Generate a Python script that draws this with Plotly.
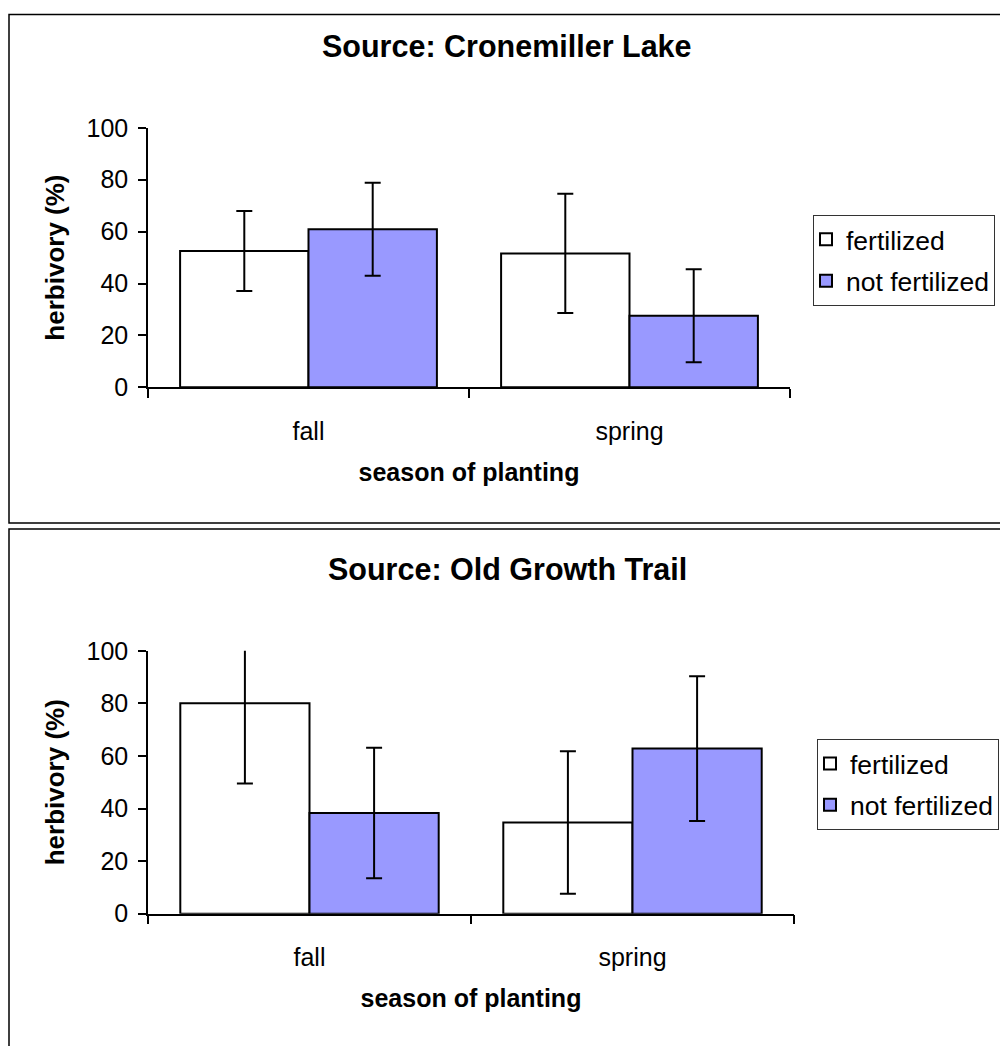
import plotly.graph_objects as go

# ---- data ----
seasons = ["fall", "spring"]
series_names = ["fertilized", "not fertilized"]

lake_fert = [52.5, 51.6]
lake_fert_err = [15.4, 23.0]
lake_notfert = [60.9, 27.6]
lake_notfert_err = [17.9, 17.9]

trail_fert = [80.1, 34.7]
trail_fert_err = [30.6, 27.1]
trail_notfert = [38.3, 62.8]
trail_notfert_err = [24.8, 27.5]

titles = ["Source: Cronemiller Lake", "Source: Old Growth Trail"]
y_ticks = [0, 20, 40, 60, 80, 100]

W, H = 1000, 1046
FONT = "Liberation Sans, Arial, sans-serif"
fill_colors = ["#FFFFFF", "#9999FF"]


def py(px):
    """paper y fraction for a target pixel row (compensating the capture offset)."""
    fy = (px - 13) / 0.975
    fy = max(fy, 0.5)
    return 1 - fy / H


fig = go.Figure()

panels = [
    dict(fert=lake_fert, fe=lake_fert_err, nf=lake_notfert, ne=lake_notfert_err,
         xa="x", ya="y", legend="legend"),
    dict(fert=trail_fert, fe=trail_fert_err, nf=trail_notfert, ne=trail_notfert_err,
         xa="x2", ya="y2", legend="legend2"),
]

for p in panels:
    for name, vals, errs, col in [
        (series_names[0], p["fert"], p["fe"], fill_colors[0]),
        (series_names[1], p["nf"], p["ne"], fill_colors[1]),
    ]:
        fig.add_trace(go.Bar(
            x=seasons, y=vals, name=name,
            xaxis=p["xa"], yaxis=p["ya"], legend=p["legend"],
            legendgroup=name + p["legend"],
            marker=dict(color=col, line=dict(color="black", width=2)),
            error_y=dict(type="data", array=errs, visible=True,
                         color="black", thickness=2, width=8),
        ))

axis_common = dict(showline=True, linecolor="black", linewidth=1.5,
                   ticks="outside", tickcolor="black", tickwidth=1.5,
                   showgrid=False, zeroline=False,
                   tickfont=dict(family=FONT, size=25, color="black"))

top = dict(x0=148, x1=790, y0=127, y1=387)
bot = dict(x0=148, x1=794, y0=651, y1=914.3)

for i, g in enumerate([top, bot]):
    sx = "" if i == 0 else "2"
    fig.update_layout(**{
        "xaxis" + sx: dict(domain=[g["x0"] / W, g["x1"] / W], anchor="y" + sx,
                           tickson="boundaries", ticklen=9,
                           ticklabelstandoff=21,
                           title=dict(text="season of planting", standoff=19,
                                      font=dict(family=FONT, size=25, color="black", weight="bold")),
                           **axis_common),
        "yaxis" + sx: dict(domain=[py(g["y1"]), py(g["y0"])], anchor="x" + sx,
                           range=[0, 100], tickvals=y_ticks, ticklen=8,
                           ticklabelstandoff=5,
                           title=dict(text="herbivory (%)", standoff=14,
                                      font=dict(family=FONT, size=26, color="black", weight="bold")),
                           **axis_common),
    })

legend_common = dict(xanchor="left", yanchor="top", bgcolor="white",
                     bordercolor="#333333", borderwidth=1, indentation=-8,
                     font=dict(family=FONT, size=26.5, color="black"),
                     traceorder="grouped", tracegroupgap=4, itemwidth=30)
fig.update_layout(
    legend=dict(x=813 / W, y=py(214), **legend_common),
    legend2=dict(x=817 / W, y=py(739), **legend_common),
)

fig.add_shape(type="rect", xref="paper", yref="paper",
              x0=9 / W, x1=1.01, y0=py(523), y1=py(5),
              line=dict(color="black", width=1.5), layer="below")
fig.add_shape(type="rect", xref="paper", yref="paper",
              x0=9 / W, x1=1.01, y0=-0.02, y1=py(529),
              line=dict(color="black", width=1.5), layer="below")

for t, yc in zip(titles, [45, 569]):
    fig.add_annotation(text=t, xref="paper", yref="paper", x=507 / W, y=py(yc),
                       xanchor="center", yanchor="middle", showarrow=False,
                       font=dict(family=FONT, size=30.5, color="black", weight="bold"))

fig.update_layout(
    width=W, height=H, margin=dict(l=0, r=0, t=0, b=0),
    paper_bgcolor="white", plot_bgcolor="white",
    barmode="group", bargap=0.2, bargroupgap=0,
    font=dict(family=FONT, color="black"),
)

fig.write_html(
    "out.html",
    config={"displayModeBar": False},
    post_script=(
        "document.documentElement.style.margin='0';"
        "document.body.style.margin='0';document.body.style.overflow='hidden';"
    ),
)
